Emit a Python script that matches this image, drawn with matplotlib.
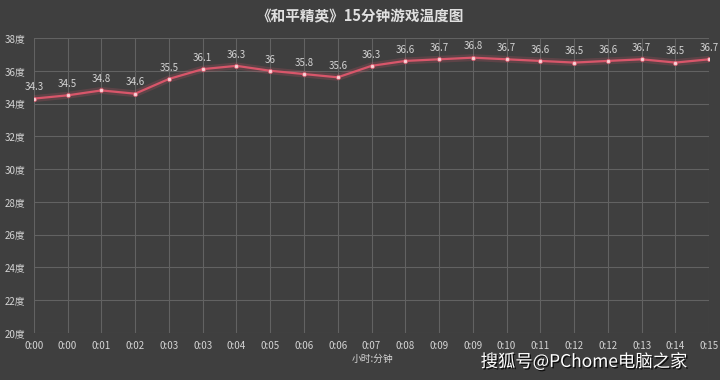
import matplotlib.pyplot as plt
import matplotlib.patheffects as pe

plt.rcParams['font.family'] = ['Noto Sans CJK SC', 'DejaVu Sans']

times = ["0:00", "0:00", "0:01", "0:02", "0:03", "0:03", "0:04", "0:05", "0:06", "0:06",
         "0:07", "0:08", "0:09", "0:09", "0:10", "0:11", "0:12", "0:12", "0:13", "0:14", "0:15"]
temps = [34.3, 34.5, 34.8, 34.6, 35.5, 36.1, 36.3, 36.0, 35.8, 35.6,
         36.3, 36.6, 36.7, 36.8, 36.7, 36.6, 36.5, 36.6, 36.7, 36.5, 36.7]
labels = ["34.3", "34.5", "34.8", "34.6", "35.5", "36.1", "36.3", "36", "35.8", "35.6",
          "36.3", "36.6", "36.7", "36.8", "36.7", "36.6", "36.5", "36.6", "36.7", "36.5", "36.7"]
yticks = list(range(20, 39, 2))

BG = "#3f3f3f"
GRID = "#626262"
TXT = "#d4d4d4"
LINE = "#d8566a"

fig = plt.figure(figsize=(7.2, 3.8), dpi=100, facecolor=BG)
ax = fig.add_axes([0.047, 0.124, 0.938, 0.776], facecolor=BG)

x = list(range(len(temps)))
# soft glow under the line
ax.plot(x, temps, color=LINE, lw=5, alpha=0.2, zorder=2, solid_capstyle="round")
ax.plot(x, temps, color=LINE, lw=1.6, zorder=3)
ax.plot(x, temps, "o", ms=3.0, color="#f8d0d4", mec=LINE, mew=0.5, zorder=4)

for xi, yi, lb in zip(x, temps, labels):
    ax.annotate(lb, (xi, yi), xytext=(0, 4.5), textcoords="offset points",
                ha="center", va="bottom", fontsize=7, color=TXT, zorder=5)

ax.set_xlim(0, len(temps) - 1)
ax.set_ylim(20, 38)
ax.set_xticks(x)
ax.set_xticklabels(times)
ax.set_yticks(yticks)
ax.set_yticklabels([f"{v}度" for v in yticks])
ax.tick_params(colors=TXT, labelsize=7, length=0, pad=6)
ax.grid(True, color=GRID, lw=0.8)
for s in ax.spines.values():
    s.set_visible(False)

fig.text(0.5, 0.958, "《和平精英》15分钟游戏温度图", ha="center", va="center",
         fontsize=10.5, fontweight="bold", color="#e0e0e0")
fig.text(0.517, 0.055, "小时:分钟", ha="center", va="center", fontsize=7, color=TXT)
fig.text(0.955, 0.048, "搜狐号@PChome电脑之家", ha="right", va="center",
         fontsize=12.5, color="white",
         path_effects=[pe.withSimplePatchShadow(offset=(1, -1), shadow_rgbFace="black", alpha=0.8)])

fig.savefig("out.png", dpi=100, facecolor=BG)
